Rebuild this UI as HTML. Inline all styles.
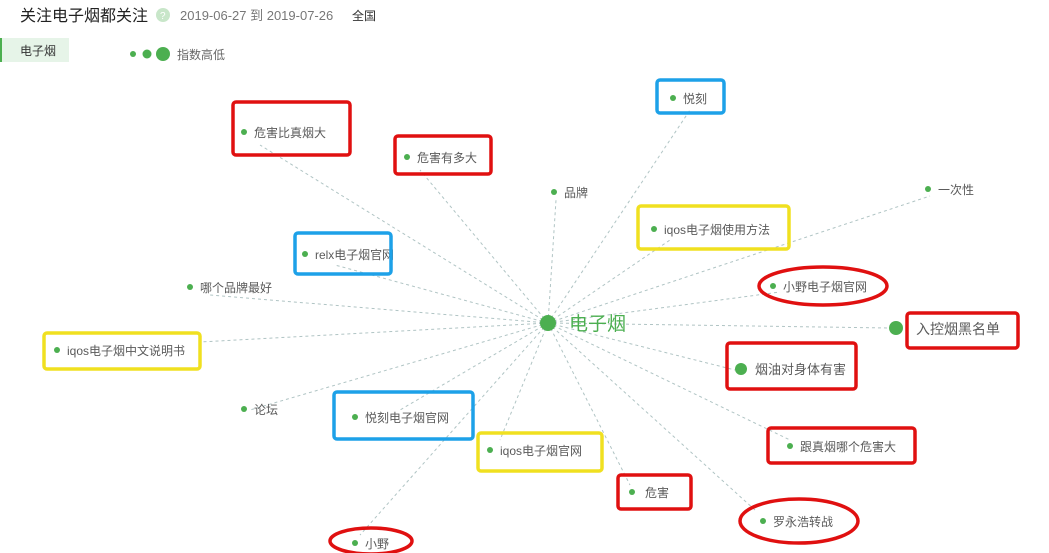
<!DOCTYPE html>
<html><head><meta charset="utf-8"><style>
body{margin:0;background:#fff;width:1049px;height:553px;overflow:hidden;font-family:"Liberation Sans","Noto Sans CJK SC",sans-serif}
svg{position:absolute;left:0;top:0}
text{font-family:"Liberation Sans","Noto Sans CJK SC",sans-serif;fill:#5a5a5a;font-size:12px}
</style></head><body>
<svg width="1049" height="553" xmlns="http://www.w3.org/2000/svg">
<text x="20" y="21" style="font-size:16px;fill:#222">关注电子烟都关注</text>
<circle cx="163" cy="15" r="7" fill="#c8e6c9"/><text x="160" y="19" style="font-size:10px;fill:#fff">?</text>
<text x="180" y="20" style="font-size:13px;fill:#777">2019-06-27 到 2019-07-26</text>
<text x="352" y="20" style="font-size:12px;fill:#333">全国</text>
<rect x="0" y="38" width="69" height="24" fill="#e6f4e8"/><rect x="0" y="38" width="2" height="24" fill="#4caf50"/>
<text x="20" y="55" style="fill:#333">电子烟</text>
<circle cx="133" cy="54" r="3" fill="#4caf50"/><circle cx="147" cy="54" r="4.5" fill="#4caf50"/><circle cx="163" cy="54" r="7" fill="#4caf50"/>
<text x="177" y="59" style="fill:#666">指数高低</text>
<g stroke="#b0c4c4" stroke-dasharray="3,3" stroke-width="1">
<line x1="548" y1="323" x2="260" y2="145"/><line x1="548" y1="323" x2="420" y2="170"/>
<line x1="548" y1="323" x2="690" y2="110"/><line x1="548" y1="323" x2="556" y2="200"/>
<line x1="548" y1="323" x2="930" y2="196"/><line x1="548" y1="323" x2="670" y2="240"/>
<line x1="548" y1="323" x2="335" y2="265"/><line x1="548" y1="323" x2="780" y2="292"/>
<line x1="548" y1="323" x2="210" y2="295"/><line x1="548" y1="323" x2="200" y2="342"/>
<line x1="548" y1="323" x2="889" y2="328"/><line x1="548" y1="323" x2="735" y2="370"/>
<line x1="548" y1="323" x2="250" y2="410"/><line x1="548" y1="323" x2="400" y2="410"/>
<line x1="548" y1="323" x2="500" y2="440"/><line x1="548" y1="323" x2="790" y2="440"/>
<line x1="548" y1="323" x2="630" y2="485"/><line x1="548" y1="323" x2="755" y2="510"/>
<line x1="548" y1="323" x2="360" y2="535"/>
</g>
<g fill="#4caf50">
<circle cx="548" cy="323" r="8"/>
<circle cx="244" cy="132" r="3"/><circle cx="407" cy="157" r="3"/><circle cx="673" cy="98" r="3"/>
<circle cx="554" cy="192" r="3"/><circle cx="928" cy="189" r="3"/><circle cx="654" cy="229" r="3"/>
<circle cx="305" cy="254" r="3"/><circle cx="773" cy="286" r="3"/><circle cx="190" cy="287" r="3"/>
<circle cx="57" cy="350" r="3"/><circle cx="896" cy="328" r="7"/><circle cx="741" cy="369" r="6"/>
<circle cx="244" cy="409" r="3"/><circle cx="355" cy="417" r="3"/><circle cx="490" cy="450" r="3"/>
<circle cx="790" cy="446" r="3"/><circle cx="632" cy="492" r="3"/><circle cx="763" cy="521" r="3"/>
<circle cx="355" cy="543" r="3"/>
</g>
<text x="569" y="330" style="font-size:19px;fill:#4caf50">电子烟</text>
<text x="254" y="137">危害比真烟大</text><text x="417" y="162">危害有多大</text>
<text x="683" y="103">悦刻</text><text x="564" y="197">品牌</text><text x="938" y="194">一次性</text>
<text x="664" y="234">iqos电子烟使用方法</text><text x="315" y="259" textLength="79" lengthAdjust="spacingAndGlyphs">relx电子烟官网</text>
<text x="783" y="291">小野电子烟官网</text><text x="200" y="292">哪个品牌最好</text>
<text x="67" y="355">iqos电子烟中文说明书</text><text x="916" y="334" style="font-size:14px">入控烟黑名单</text>
<text x="755" y="374" style="font-size:13px">烟油对身体有害</text><text x="254" y="414">论坛</text>
<text x="365" y="422">悦刻电子烟官网</text><text x="500" y="455">iqos电子烟官网</text>
<text x="800" y="451">跟真烟哪个危害大</text><text x="645" y="497">危害</text>
<text x="773" y="526">罗永浩转战</text><text x="365" y="548">小野</text>
<g fill="none" stroke-width="3.5">
<rect x="233" y="102" width="117" height="53" rx="3" stroke="#e01010"/>
<rect x="395" y="136" width="96" height="38" rx="3" stroke="#e01010"/>
<rect x="657" y="80" width="67" height="33" rx="3" stroke="#1da1e8"/>
<rect x="638" y="206" width="151" height="43" rx="3" stroke="#f0e020"/>
<rect x="295" y="233" width="96" height="41" rx="3" stroke="#1da1e8"/>
<ellipse cx="823" cy="286" rx="64" ry="19" stroke="#e01010"/>
<rect x="44" y="333" width="156" height="36" rx="3" stroke="#f0e020"/>
<rect x="907" y="313" width="111" height="35" rx="3" stroke="#e01010"/>
<rect x="727" y="343" width="129" height="46" rx="3" stroke="#e01010"/>
<rect x="334" y="392" width="139" height="47" rx="3" stroke="#1da1e8"/>
<rect x="478" y="433" width="124" height="38" rx="3" stroke="#f0e020"/>
<rect x="768" y="428" width="147" height="35" rx="3" stroke="#e01010"/>
<rect x="618" y="475" width="73" height="34" rx="3" stroke="#e01010"/>
<ellipse cx="799" cy="521" rx="59" ry="22" stroke="#e01010"/>
<ellipse cx="371" cy="541" rx="41" ry="13" stroke="#e01010"/>
</g>
</svg>
</body></html>
